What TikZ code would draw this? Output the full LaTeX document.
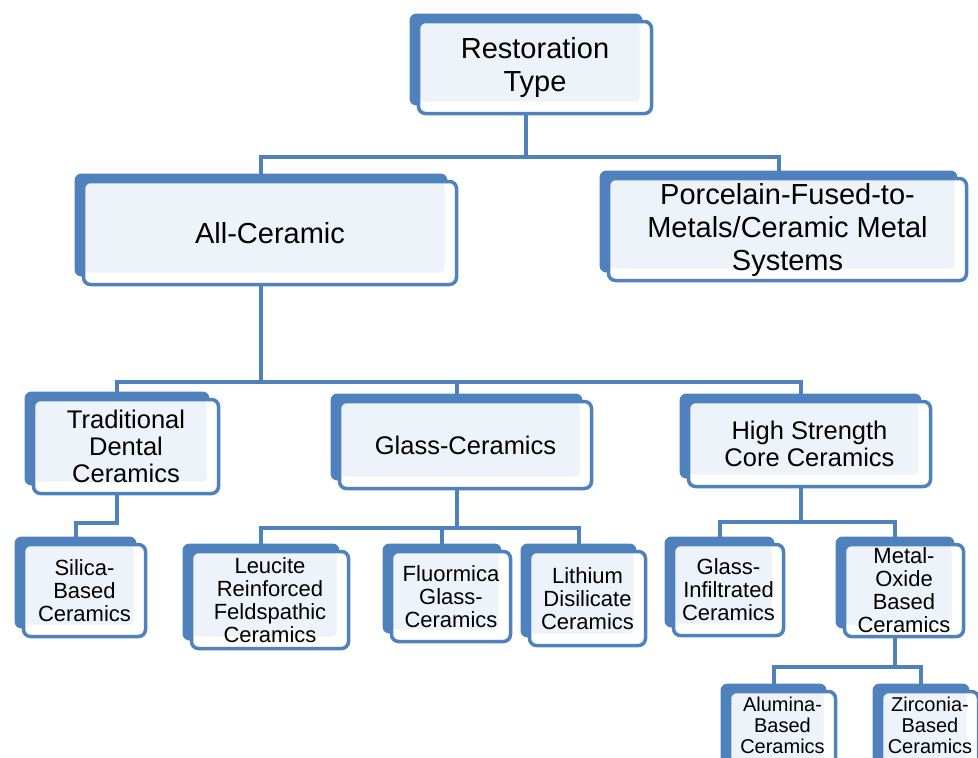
\documentclass[tikz,border=0pt]{standalone}
\usepackage{fontspec}
\setmainfont{Liberation Sans}
\usetikzlibrary{shadows,backgrounds,positioning}
\definecolor{boxblue}{RGB}{79,129,189}
\definecolor{boxfill}{RGB}{238,242,249}
\tikzset{
  rbox/.style={draw=boxblue, line width=3.5pt, fill=white, rounded corners=7pt, inner sep=0pt, align=center,
    general shadow={fill=boxblue, shadow xshift=-9pt, shadow yshift=8pt},
    path picture={\fill[boxfill, rounded corners=4pt] ([shift={(1pt,-1pt)}]path picture bounding box.north west) rectangle ([shift={(-12pt,12pt)}]path picture bounding box.south east);}},
  link/.style={draw=boxblue, line width=4pt},
  bigtxt/.style={font=\fontsize{29}{33}\selectfont},
  midtxt/.style={font=\fontsize{25.5}{27}\selectfont},
  smalltxt/.style={font=\fontsize{22}{23}\selectfont},
  tinytxt/.style={font=\fontsize{20}{21}\selectfont},
}
\begin{document}
\begin{tikzpicture}[x=1pt, y=-1pt]
    \useasboundingbox (0,0) rectangle (978,758);
    % top levels
    \node[rbox, bigtxt, minimum width=233pt, minimum height=92pt] (rest) at (535,67.5) {Restoration\\Type};
    \node[rbox, bigtxt, minimum width=373pt, minimum height=103pt] (allc) at (270,233) {All-Ceramic};
    \node[rbox, bigtxt, minimum width=358pt, minimum height=102pt] (pfm) at (787.5,229.5) {Porcelain-Fused-to-\\Metals/Ceramic Metal\\Systems};
    % ceramic classes
    \node[rbox, midtxt, minimum width=185pt, minimum height=94pt] (trad) at (126,446.5) {Traditional\\Dental\\Ceramics};
    \node[rbox, midtxt, minimum width=252pt, minimum height=87pt] (glass) at (465.5,445) {Glass-Ceramics};
    \node[rbox, midtxt, minimum width=242pt, minimum height=85pt] (high) at (809.5,444) {High Strength\\Core Ceramics};
    % materials
    \node[rbox, smalltxt, minimum width=122pt, minimum height=92pt] (silica) at (84.5,590.5) {Silica-\\Based\\Ceramics};
    \node[rbox, smalltxt, minimum width=157pt, minimum height=97pt] (leuc) at (270,600) {Leucite\\Reinforced\\Feldspathic\\Ceramics};
    \node[rbox, smalltxt, minimum width=119pt, minimum height=90pt] (fluor) at (451,596.5) {Fluormica\\Glass-\\Ceramics};
    \node[rbox, smalltxt, minimum width=116pt, minimum height=94pt] (lith) at (587.5,598.5) {Lithium\\Disilicate\\Ceramics};
    \node[rbox, smalltxt, minimum width=110pt, minimum height=91pt] (ginf) at (728.5,590) {Glass-\\Infiltrated\\Ceramics};
    \node[rbox, smalltxt, minimum width=119pt, minimum height=92pt] (metal) at (904,590.5) {Metal-\\Oxide\\Based\\Ceramics};
    % bottom row runs past the lower edge
    \node[rbox, minimum width=106pt, minimum height=87pt,
          label={[tinytxt, align=center, yshift=10pt]center:Alumina-\\Based\\Ceramics}] (alum) at (782.5,735) {};
    \node[rbox, minimum width=97pt, minimum height=87pt,
          label={[tinytxt, align=center, yshift=10pt]center:Zirconia-\\Based\\Ceramics}] (zirc) at (930,735) {};
    % connectors
    \begin{scope}[on background layer]
        \foreach \p/\d/\cs in {rest/42/{allc,pfm}, allc/96/{trad,glass,high}, trad/28/{silica}, glass/38/{leuc,fluor,lith}, high/34/{ginf,metal}, metal/29/{alum,zirc}}
            \foreach \c in \cs {\draw[link] ([xshift=-9pt]\p.south) -- ++(0,\d) -| ([xshift=-9pt]\c.north);}
    \end{scope}
\end{tikzpicture}
\end{document}
